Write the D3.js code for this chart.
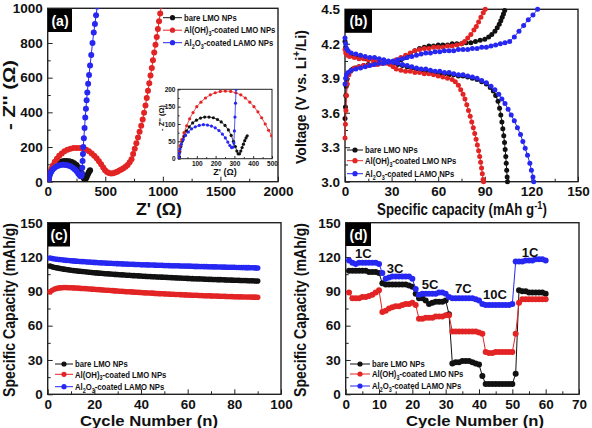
<!DOCTYPE html>
<html>
<head>
<meta charset="utf-8">
<script src="https://cdn.jsdelivr.net/npm/d3@7"></script>
<style>
  body { margin: 0; background: #fff; }
  svg text { font-family: "Liberation Sans", Arial, sans-serif; font-weight: bold; fill: #111; }
</style>
</head>
<body>
<div id="chart"></div>
<script>
// ---------- (a) impedance, [Z', -Z''] ----------
var bareA = [[8,5],[10,20],[15,35],[22,50],[32,65],[45,80],[60,92],[78,103],[98,111],[120,117],[142,120],[165,120],[188,118],[210,113],[230,106],[250,96],[268,83],[283,67],[295,50],[305,35],[313,22],[320,14],[327,14],[334,22],[341,32],[348,42],[355,52],[362,60],[368,66]];
var alohA = [[3,5],[6,20],[12,38],[20,55],[32,75],[46,95],[62,115],[80,133],[100,150],[122,163],[146,175],[172,184],[198,190],[225,194],[252,195],[280,194],[308,190],[334,184],[358,175],[382,163],[404,150],[425,135],[445,118],[464,100],[482,82],[498,66],[515,56],[532,50],[550,48],[568,49],[586,53],[604,58],[622,64],[640,70],[658,77],[676,86],[694,96],[712,112],[728,130],[742,160],[756,190],[770,222],[784,255],[798,288],[812,322],[825,358],[837,398],[849,440],[860,482],[871,525],[882,568],[893,612],[904,656],[914,700],[925,745],[936,790],[947,835],[957,880],[967,925],[977,970],[987,1015]];
var al2o3A = [[5,3],[7,15],[11,28],[18,42],[28,55],[40,67],[55,77],[72,86],[92,92],[113,96],[135,98],[157,97],[178,94],[198,89],[218,81],[236,71],[252,60],[265,48],[276,38],[285,32],[292,33],[297,45],[300,80],[303,120],[306,160],[309,200],[314,250],[320,310],[326,370],[332,420],[338,470],[344,515],[351,565],[359,615],[368,670],[378,730],[389,800],[400,860],[410,910],[420,960],[430,1010]];

// ---------- (b) charge / discharge, [capacity, V] ----------
var bareChg = [[0,3.55],[0.3,3.65],[0.5,3.75],[0.8,3.83],[1.2,3.89],[2,3.93],[3.5,3.96],[5,3.98],[7,3.99],[9,4.00],[12,4.01],[15,4.02],[18,4.02],[21,4.03],[24,4.03],[27,4.04],[30,4.04],[33,4.05],[36,4.06],[39,4.08],[42,4.11],[45,4.14],[48,4.16],[51,4.17],[54,4.18],[57,4.18],[60,4.19],[63,4.19],[66,4.19],[69,4.20],[72,4.20],[75,4.20],[78,4.21],[81,4.21],[84,4.22],[87,4.23],[90,4.24],[92.5,4.26],[94.5,4.28],[96.5,4.31],[98,4.34],[99.3,4.37],[100.3,4.40],[101.2,4.43],[102,4.46],[102.8,4.49]];
var bareDis = [[0,4.22],[0.4,4.17],[1,4.14],[2,4.12],[4,4.10],[7,4.09],[10,4.08],[13,4.07],[16,4.07],[19,4.06],[22,4.05],[25,4.05],[28,4.04],[31,4.03],[34,4.02],[37,4.01],[40,4.00],[43,3.99],[46,3.98],[49,3.97],[52,3.96],[55,3.95],[58,3.95],[61,3.94],[64,3.94],[67,3.93],[70,3.93],[73,3.92],[76,3.92],[79,3.91],[82,3.90],[85,3.89],[88,3.87],[91,3.85],[93.5,3.82],[95.5,3.79],[97,3.75],[98.5,3.70],[99.5,3.64],[100.3,3.58],[101,3.52],[101.6,3.46],[102.2,3.40],[102.7,3.34],[103.1,3.28],[103.5,3.22],[103.8,3.16],[104.1,3.10],[104.4,3.04],[104.6,3.00]];
var alohChg = [[0,3.38],[0.3,3.50],[0.6,3.62],[1,3.75],[1.5,3.85],[2.5,3.93],[4,3.97],[6,3.99],[9,4.00],[12,4.01],[15,4.01],[18,4.02],[21,4.02],[24,4.03],[27,4.03],[30,4.04],[33,4.06],[36,4.08],[39,4.10],[42,4.12],[45,4.14],[48,4.15],[51,4.16],[54,4.16],[57,4.17],[60,4.17],[63,4.17],[66,4.18],[69,4.18],[72,4.19],[75,4.20],[77,4.22],[79,4.25],[81,4.28],[83,4.32],[84.5,4.35],[86,4.39],[87.5,4.43],[89,4.47],[90.3,4.50]];
var alohDis = [[0,4.15],[0.5,4.12],[1.5,4.10],[3,4.09],[6,4.08],[9,4.07],[12,4.07],[15,4.06],[18,4.06],[21,4.05],[24,4.05],[27,4.04],[29,4.02],[31,4.00],[33,3.98],[36,3.97],[39,3.96],[42,3.96],[45,3.95],[48,3.95],[51,3.94],[54,3.94],[57,3.93],[60,3.92],[63,3.91],[66,3.90],[69,3.89],[71,3.87],[73,3.84],[74.5,3.80],[76,3.76],[77.2,3.72],[78.4,3.67],[79.5,3.62],[80.6,3.57],[81.6,3.52],[82.6,3.47],[83.5,3.42],[84.4,3.37],[85.2,3.32],[86,3.27],[86.7,3.22],[87.3,3.17],[87.9,3.12],[88.4,3.07],[88.9,3.02],[89.2,3.00]];
var al2o3Chg = [[0,3.85],[0.4,3.90],[1,3.93],[2,3.95],[4,3.97],[7,3.98],[10,3.99],[13,4.00],[16,4.01],[19,4.02],[22,4.03],[25,4.03],[28,4.04],[31,4.05],[34,4.06],[37,4.07],[40,4.08],[43,4.09],[46,4.10],[49,4.11],[52,4.12],[55,4.12],[58,4.13],[61,4.13],[64,4.14],[67,4.14],[70,4.14],[73,4.15],[76,4.15],[79,4.15],[82,4.16],[85,4.16],[88,4.17],[91,4.17],[94,4.18],[97,4.19],[100,4.20],[103,4.21],[106,4.22],[109,4.26],[112,4.31],[115,4.36],[118,4.41],[121,4.45],[124,4.50]];
var al2o3Dis = [[0,4.25],[0.4,4.20],[1,4.16],[2,4.14],[4,4.12],[7,4.11],[10,4.10],[13,4.09],[16,4.08],[19,4.08],[22,4.07],[25,4.06],[28,4.05],[31,4.04],[34,4.03],[37,4.02],[40,4.01],[43,4.00],[46,3.99],[49,3.98],[52,3.98],[55,3.97],[58,3.96],[61,3.96],[64,3.95],[67,3.95],[70,3.94],[73,3.93],[76,3.93],[79,3.92],[82,3.91],[85,3.90],[88,3.88],[91,3.86],[94,3.83],[96.5,3.80],[99,3.76],[101,3.72],[103,3.68],[105,3.63],[107,3.58],[109,3.53],[111,3.47],[113,3.41],[114.5,3.35],[116,3.29],[117.5,3.23],[119,3.16],[120,3.10],[121,3.04],[121.5,3.00]];

// ---------- (c) cycling at 1C, capacity per cycle ----------
var bareC = [112.0,111.4,110.9,110.5,110.1,109.7,109.4,109.1,108.8,108.5,
  108.2,108.0,107.7,107.5,107.3,107.1,106.9,106.7,106.5,106.3,
  106.1,105.9,105.8,105.6,105.4,105.3,105.1,105.0,104.8,104.7,
  104.5,104.4,104.3,104.1,104.0,103.9,103.7,103.6,103.5,103.4,
  103.2,103.1,103.0,102.9,102.8,102.7,102.6,102.5,102.4,102.3,
  102.2,102.1,102.0,101.9,101.8,101.7,101.6,101.5,101.4,101.3,
  101.2,101.1,101.0,100.9,100.9,100.8,100.7,100.6,100.5,100.5,
  100.4,100.3,100.2,100.2,100.1,100.0,99.9,99.9,99.8,99.7,
  99.7,99.6,99.5,99.5,99.4,99.3,99.3,99.2,99.1,99.1];
var alohC = [89.5,91.0,92.0,92.6,93.0,93.2,93.3,93.3,93.2,93.1,
  93.0,92.9,92.8,92.6,92.5,92.4,92.2,92.1,91.9,91.8,
  91.6,91.5,91.3,91.2,91.0,90.9,90.7,90.6,90.4,90.3,
  90.1,90.0,89.9,89.7,89.6,89.5,89.3,89.2,89.1,89.0,
  88.8,88.7,88.6,88.5,88.4,88.2,88.1,88.0,87.9,87.8,
  87.7,87.6,87.5,87.4,87.3,87.2,87.1,87.0,86.9,86.8,
  86.7,86.6,86.6,86.5,86.4,86.3,86.2,86.2,86.1,86.0,
  85.9,85.9,85.8,85.7,85.7,85.6,85.5,85.5,85.4,85.3,
  85.3,85.2,85.2,85.1,85.1,85.0,85.0,84.9,84.9,84.8];
var al2o3C = [119.2,118.6,118.3,118.0,117.8,117.6,117.3,117.1,116.9,116.8,
  116.6,116.4,116.3,116.1,116.0,115.8,115.7,115.6,115.4,115.3,
  115.2,115.0,114.9,114.8,114.7,114.6,114.5,114.4,114.3,114.2,
  114.1,114.0,113.9,113.8,113.7,113.7,113.6,113.5,113.4,113.3,
  113.3,113.2,113.1,113.0,113.0,112.9,112.8,112.8,112.7,112.6,
  112.6,112.5,112.4,112.4,112.3,112.3,112.2,112.1,112.1,112.0,
  112.0,111.9,111.8,111.8,111.7,111.7,111.6,111.6,111.5,111.5,
  111.4,111.4,111.3,111.3,111.2,111.2,111.1,111.1,111.0,111.0,
  110.9,110.9,110.8,110.8,110.7,110.7,110.6,110.6,110.5,110.4];

// ---------- (d) rate capability, capacity per cycle ----------
var bareD = [108,108,108,108,108,108,107,107,107,106, 97,96,96,96,96,96,96,96,95,94,
  88,84,84,82,79,80,81,81,81,82, 70,27,28,28,29,29,29,28,27,26,
  16,9,9,9,9,9,9,9,9,9, 18,91,90,90,89,89,89,89,89,88];
var alohD = [89,84,84,84,85,85,86,87,89,91, 72,73,75,76,77,77,78,79,79,80,
  78,66,66,67,67,67,68,68,68,69, 69,55,55,55,55,55,55,55,55,54,
  53,37,36,36,37,37,37,37,37,37, 53,80,83,83,83,83,83,83,83,83];
var al2o3D = [117,115,114,115,115,115,115,115,115,114, 106,101,102,103,103,103,103,103,103,101,
  92,87,88,88,88,88,88,89,89,88, 85,84,84,84,84,84,84,84,83,82,
  79,78,78,78,78,78,78,78,78,79, 116,116,116,117,117,117,118,118,118,117];
var rateText  = ["1C", "3C", "5C", "7C", "10C", "1C"];
var rateCycle = [5.3, 14.8, 25.3, 35.3, 44.8, 55.3];
var rateValue = [123.7, 110.6, 96.1, 92.6, 87.6, 124.6];

// ---------- ticks ----------
var aXTicks = [0, 500, 1000, 1500, 2000], aYTicks = [0, 200, 400, 600, 800, 1000];
var insetXTicks = [100, 200, 300, 400, 500], insetYTicks = [0, 50, 100, 150, 200];
var bXTicks = [0, 30, 60, 90, 120, 150], bYTicks = [3.0, 3.3, 3.6, 3.9, 4.2, 4.5];
var cXTicks = [0, 20, 40, 60, 80, 100], capTicks = [0, 30, 60, 90, 120, 150];
var dXTicks = [0, 10, 20, 30, 40, 50, 60, 70];

var seriesNames = [
  [{t: "bare LMO NPs"}],
  [{t: "Al(OH)"}, {t: "3", sub: true}, {t: "-coated LMO NPs"}],
  [{t: "Al"}, {t: "2", sub: true}, {t: "O"}, {t: "3", sub: true}, {t: "-coated LAMO NPs"}]
];
var colors = ["#111111", "#e32424", "#2727f2"];

var svg = d3.select("#chart").append("svg").attr("width", 592).attr("height", 428);
var clipN = 0;

function styleAxis(ax, size) {
  ax.select(".domain").remove();
  ax.selectAll("line").attr("stroke", "#222").attr("stroke-width", 1);
  ax.selectAll("text").attr("font-size", size).attr("font-family", null).attr("fill", "#111");
}

// frame, ticks and clip for one plot area
function panel(o) {
  var x = d3.scaleLinear().domain(o.xd).range([o.l, o.r]);
  var y = d3.scaleLinear().domain(o.yd).range([o.b, o.t]);
  var g = svg.append("g");
  var fs = o.fs || 13.5, tk = o.tk || 5;
  if (o.bg) g.append("rect").attr("x", o.l).attr("y", o.t).attr("width", o.r - o.l).attr("height", o.b - o.t).attr("fill", "#fff");

  var bx = g.append("g").attr("transform", "translate(0," + o.b + ")")
    .call(d3.axisBottom(x).tickValues(o.xt).tickSize(-tk).tickPadding(o.pad || 5).tickFormat(o.xf || d3.format("d")));
  styleAxis(bx, fs);
  var ly = g.append("g").attr("transform", "translate(" + o.l + ",0)")
    .call(d3.axisLeft(y).tickValues(o.yt).tickSize(-tk).tickPadding(o.pad || 5).tickFormat(o.yf || d3.format("d")));
  styleAxis(ly, fs);
  if (o.xm) {
    var mx = g.append("g").attr("transform", "translate(0," + o.b + ")")
      .call(d3.axisBottom(x).tickValues(o.xm).tickSize(-tk * 0.6).tickFormat(""));
    styleAxis(mx, fs);
  }
  if (o.ym) {
    var my = g.append("g").attr("transform", "translate(" + o.l + ",0)")
      .call(d3.axisLeft(y).tickValues(o.ym).tickSize(-tk * 0.6).tickFormat(""));
    styleAxis(my, fs);
  }
  g.append("rect").attr("x", o.l).attr("y", o.t).attr("width", o.r - o.l).attr("height", o.b - o.t)
    .attr("fill", "none").attr("stroke", "#222").attr("stroke-width", o.sw || 1.4);

  var id = "clip" + (clipN++);
  svg.append("clipPath").attr("id", id).append("rect")
    .attr("x", o.l).attr("y", o.t).attr("width", o.r - o.l).attr("height", o.b - o.t);
  var plot = g.append("g");
  if (o.clip) plot.attr("clip-path", "url(#" + id + ")");
  return {x: x, y: y, g: g, plot: plot};
}

function drawSeries(p, pts, color, r, lw) {
  p.plot.append("path").datum(pts)
    .attr("fill", "none").attr("stroke", color).attr("stroke-width", lw || 1)
    .attr("d", d3.line().x(function(d) { return p.x(d[0]); }).y(function(d) { return p.y(d[1]); }));
  p.plot.append("g").selectAll("circle").data(pts).enter().append("circle")
    .attr("cx", function(d) { return p.x(d[0]); })
    .attr("cy", function(d) { return p.y(d[1]); })
    .attr("r", r).attr("fill", color);
}

function byCycle(vals) {
  return vals.map(function(v, i) { return [i + 1, v]; });
}

// text pieces with sub/superscripts, baseline restored after each one
function addParts(text, parts, fs) {
  var shift = 0;
  parts.forEach(function(pt) {
    var ts = text.append("tspan").text(pt.t);
    var want = pt.sub ? fs * 0.3 : (pt.sup ? -fs * 0.4 : 0);
    if (want !== shift) ts.attr("dy", want - shift);
    if (pt.sub || pt.sup) ts.attr("font-size", fs * 0.7);
    shift = want;
  });
}

// title squeezed to a given width (the figure text is horizontally compressed)
function title(cx, cy, rot, fs, parts, width) {
  var g = svg.append("g");
  var t = g.append("text").attr("text-anchor", "middle").attr("font-size", fs);
  addParts(t, parts, fs);
  var s = width ? width / t.node().getBBox().width : 1;
  g.attr("transform", "translate(" + cx + "," + cy + ") rotate(" + rot + ") scale(" + s + ",1)");
  return t;
}

function legend(x0, y0, gaps, lineW) {
  var rowY = 0;
  seriesNames.forEach(function(parts, i) {
    rowY += gaps[i];
    var g = svg.append("g").attr("transform", "translate(" + x0 + "," + (y0 + rowY) + ")");
    g.append("line").attr("x1", 0).attr("x2", lineW).attr("stroke", colors[i]).attr("stroke-width", 1);
    g.append("circle").attr("cx", lineW / 2).attr("r", 2.6).attr("fill", colors[i]);
    var t = g.append("text").attr("x", (lineW + 2) / 0.86).attr("y", 3.2).attr("font-size", 9)
      .attr("transform", "scale(0.86,1)");
    addParts(t, parts, 9);
  });
}

function tag(x, y, w, h, s) {
  svg.append("rect").attr("x", x).attr("y", y).attr("width", w).attr("height", h).attr("fill", "#000");
  svg.append("text").attr("x", x + w / 2).attr("y", y + h / 2 + 5).attr("text-anchor", "middle")
    .attr("font-size", 14).attr("font-family", "'Liberation Serif', 'DejaVu Serif', serif")
    .style("fill", "#fff").text(s);
}

// ===== (a) =====
var pa = panel({l: 47.7, r: 278, t: 8.3, b: 181.7, xd: [0, 2000], yd: [0, 1000],
  xt: aXTicks, yt: aYTicks, xm: [250, 750, 1250, 1750], ym: [100, 300, 500, 700, 900], clip: true});
[bareA, alohA, al2o3A].forEach(function(s, i) { drawSeries(pa, s, colors[i], 3, 1); });
tag(48, 9, 24, 23, "(a)");
legend(163, 5.7, [12, 12.5, 12.5], 19);

var pi = panel({l: 178, r: 272, t: 89.3, b: 158.7, xd: [0, 500], yd: [0, 200],
  xt: insetXTicks, yt: insetYTicks, xm: [50, 150, 250, 350, 450], ym: [25, 75, 125, 175],
  fs: 6.5, tk: 2.6, pad: 2.5, sw: 1, bg: true, clip: true});
[bareA, alohA, al2o3A].forEach(function(s, i) { drawSeries(pi, s, colors[i], 1.6, 0.8); });
title(225, 175, 0, 9, [{t: "Z' (Ω)"}]);
title(164, 118, -90, 7.5, [{t: "- Z'' (Ω)"}]);

title(159, 215, 0, 16, [{t: "Z' (Ω)"}], 46);
title(14.5, 95, -90, 16, [{t: "- Z'' (Ω)"}], 70);

// ===== (b) =====
var pb = panel({l: 345, r: 578, t: 9.3, b: 181.7, xd: [0, 150], yd: [3.0, 4.5],
  xt: bXTicks, yt: bYTicks, xm: [15, 45, 75, 105, 135], ym: [3.15, 3.45, 3.75, 4.05, 4.35],
  yf: d3.format(".1f")});
[[bareChg, bareDis], [alohChg, alohDis], [al2o3Chg, al2o3Dis]].forEach(function(pair, i) {
  pair.forEach(function(s) { drawSeries(pb, s, colors[i], 2.5, 1); });
});
tag(345, 9.3, 27, 23.5, "(b)");
legend(347, 139.5, [10.5, 10.7, 13], 16);
title(462, 215, 0, 16, [{t: "Specific capacity (mAh g"}, {t: "-1", sup: true}, {t: ")"}], 170);
title(306, 97, -90, 15, [{t: "Voltage (V vs. Li"}, {t: "+", sup: true}, {t: "/Li)"}], 134);

// ===== (c) =====
var pc = panel({l: 47.7, r: 281, t: 222.7, b: 394.3, xd: [0, 100], yd: [0, 150],
  xt: cXTicks, yt: capTicks, xm: [10, 30, 50, 70, 90], ym: [15, 45, 75, 105, 135]});
[bareC, alohC, al2o3C].forEach(function(s, i) { drawSeries(pc, byCycle(s), colors[i], 2.8, 1); });
tag(48, 223, 22, 23.5, "(c)");
legend(55, 353.5, [10.5, 10.3, 12.4], 18);
title(149, 426, 0, 14, [{t: "Cycle Number (n)"}], 138);
title(15, 310, -90, 16, [{t: "Specific Capacity (mAh/g)"}], 174);

// ===== (d) =====
var pd = panel({l: 345.7, r: 579, t: 222.7, b: 394.3, xd: [0, 70], yd: [0, 150],
  xt: dXTicks, yt: capTicks, xm: [5, 15, 25, 35, 45, 55, 65], ym: [15, 45, 75, 105, 135]});
[bareD, alohD, al2o3D].forEach(function(s, i) { drawSeries(pd, byCycle(s), colors[i], 3, 1); });
tag(346, 223, 25, 23, "(d)");
legend(350, 353.5, [10.5, 10, 12], 20);
rateText.forEach(function(s, i) {
  svg.append("text").attr("x", pd.x(rateCycle[i])).attr("y", pd.y(rateValue[i]) + 5)
    .attr("text-anchor", "middle").attr("font-size", 13)
    .attr("font-family", "'Noto Sans', 'Open Sans', sans-serif").text(s);
});
title(475, 426, 0, 14, [{t: "Cycle Number (n)"}], 138);
title(306, 310, -90, 16, [{t: "Specific Capacity (mAh/g)"}], 174);
</script>
</body>
</html>
